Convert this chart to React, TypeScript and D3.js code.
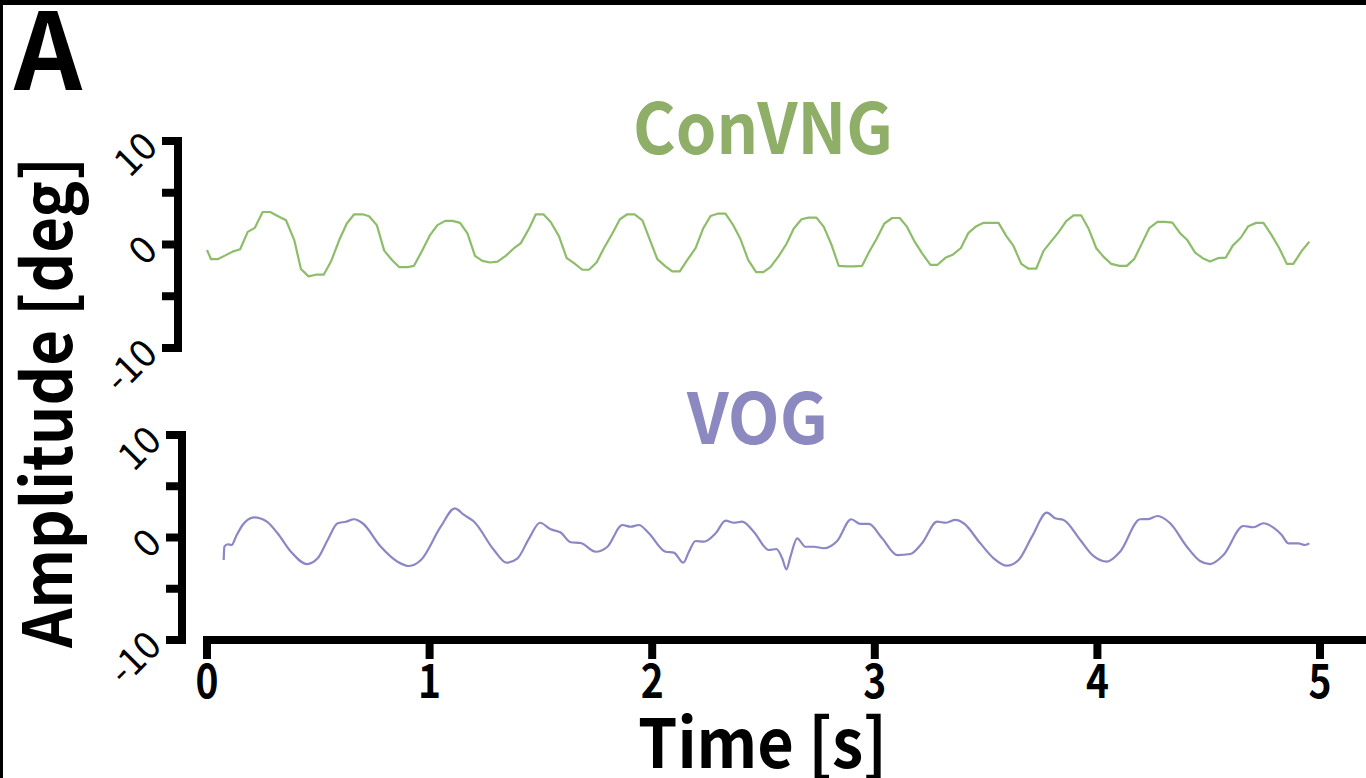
import React from "react";
import * as d3 from "d3";

// Axis ticks
const timeTicks = [0, 1, 2, 3, 4, 5];
const ampTicks = [-10, -5, 0, 5, 10];
const ampLabels = [-10, 0, 10];

// ConVNG trace (s, deg)
const conTime = [
  0.0, 0.018, 0.048, 0.078, 0.115, 0.149, 0.183, 0.215, 0.25, 0.284, 0.317, 0.355, 0.392, 0.422, 0.456,
  0.489, 0.524, 0.557, 0.594, 0.628, 0.661, 0.699, 0.728, 0.763, 0.796, 0.83, 0.863, 0.901, 0.93, 0.968,
  1.002, 1.035, 1.07, 1.103, 1.137, 1.17, 1.204, 1.237, 1.272, 1.305, 1.342, 1.379, 1.409, 1.447, 1.477,
  1.511, 1.544, 1.581, 1.616, 1.649, 1.686, 1.716, 1.75, 1.783, 1.821, 1.855, 1.888, 1.921, 1.956, 1.99,
  2.023, 2.057, 2.09, 2.124, 2.158, 2.195, 2.229, 2.262, 2.297, 2.329, 2.364, 2.397, 2.431, 2.467, 2.499,
  2.531, 2.569, 2.603, 2.636, 2.671, 2.703, 2.738, 2.771, 2.804, 2.838, 2.873, 2.905, 2.943, 2.973, 3.007,
  3.043, 3.078, 3.112, 3.145, 3.179, 3.212, 3.25, 3.282, 3.317, 3.352, 3.386, 3.421, 3.456, 3.489, 3.523,
  3.556, 3.591, 3.623, 3.658, 3.691, 3.725, 3.758, 3.793, 3.825, 3.86, 3.893, 3.927, 3.96, 3.995, 4.027,
  4.062, 4.099, 4.132, 4.166, 4.2, 4.234, 4.27, 4.304, 4.337, 4.372, 4.404, 4.439, 4.473, 4.506, 4.541,
  4.577, 4.608, 4.644, 4.678, 4.713, 4.746, 4.78, 4.816, 4.851, 4.88, 4.918, 4.952,
];
const conAmp = [
  -0.53, -1.42, -1.42, -1.1, -0.69, -0.46, 1.22, 1.61, 3.14, 3.14, 2.76, 2.34, 0.43, -2.37, -3.08,
  -2.92, -2.92, -1.65, 0.43, 2.03, 2.92, 2.92, 2.73, 1.87, -0.59, -1.48, -2.18, -2.18, -2.06, -0.53,
  0.91, 1.87, 2.28, 2.28, 2.09, 1.07, -1.1, -1.58, -1.74, -1.65, -1.1, -0.36, 0.11, 1.55, 2.92,
  2.92, 2.18, 0.81, -1.32, -1.8, -2.44, -2.44, -1.74, -0.36, 1.07, 2.44, 2.92, 2.92, 2.34, 0.43,
  -1.42, -2.06, -2.6, -2.6, -1.48, -0.36, 1.55, 2.76, 2.99, 2.99, 1.87, 0.5, -1.48, -2.66, -2.66,
  -2.18, -1.1, 0.05, 1.55, 2.44, 2.6, 2.6, 1.7, 0.05, -2.06, -2.12, -2.12, -2.06, -0.78, 0.5,
  2.03, 2.56, 2.56, 1.7, 0.27, -0.84, -1.96, -1.96, -1.29, -0.96, -0.36, 1.13, 1.77, 2.09, 2.09,
  2.09, 0.81, -0.14, -1.87, -2.34, -2.34, -0.62, 0.33, 1.17, 2.25, 2.82, 2.82, 1.55, -0.36, -1.17,
  -1.87, -2.06, -2.06, -1.39, 0.11, 1.61, 2.18, 2.18, 2.12, 1.07, 0.43, -0.78, -1.32, -1.65, -1.32,
  -1.26, -0.11, 0.65, 1.77, 2.09, 2.09, 1.0, -0.31, -1.87, -1.87, -0.62, 0.27,
];

// VOG trace (s, deg)
const vogTime = [
  0.075, 0.078, 0.093, 0.111, 0.13, 0.16, 0.212, 0.269, 0.317, 0.377, 0.449, 0.497, 0.542, 0.587, 0.624,
  0.661, 0.699, 0.781, 0.856, 0.908, 0.961, 1.05, 1.113, 1.155, 1.2, 1.289, 1.346, 1.395, 1.447, 1.496,
  1.544, 1.589, 1.634, 1.679, 1.746, 1.799, 1.866, 1.903, 1.94, 1.985, 2.06, 2.097, 2.14, 2.165, 2.195,
  2.232, 2.285, 2.33, 2.367, 2.404, 2.456, 2.524, 2.558, 2.584, 2.603, 2.621, 2.651, 2.688, 2.726, 2.771,
  2.831, 2.894, 2.935, 2.973, 3.033, 3.1, 3.16, 3.212, 3.28, 3.32, 3.362, 3.399, 3.474, 3.534, 3.594,
  3.646, 3.706, 3.773, 3.811, 3.848, 3.923, 3.982, 4.043, 4.102, 4.192, 4.229, 4.27, 4.327, 4.402, 4.461,
  4.506, 4.566, 4.656, 4.701, 4.746, 4.791, 4.828, 4.858, 4.903, 4.933, 4.952,
];
const vogAmp = [
  -2.2, -0.9, -0.66, -0.73, 0.08, 1.22, 1.97, 1.54, 0.41, -1.39, -2.59, -2.03, -0.24, 1.39, 1.54,
  1.78, 1.39, -0.9, -2.36, -2.78, -2.2, 1.05, 2.85, 2.2, 1.54, -1.22, -2.46, -2.03, -0.08, 1.44,
  0.8, 0.49, -0.46, -0.54, -1.39, -0.9, 1.22, 1.05, 1.22, 0.41, -1.39, -1.48, -2.46, -1.39, -0.34,
  -0.41, 0.41, 1.64, 1.44, 1.54, 0.57, -1.22, -1.12, -2.03, -3.1, -1.87, -0.08, -0.9, -0.9, -1.05,
  -0.34, 1.78, 1.32, 1.32, -0.08, -1.71, -1.61, -0.57, 1.54, 1.44, 1.71, 1.39, -0.57, -2.03, -2.75,
  -2.2, 0.08, 2.42, 1.87, 1.71, -0.24, -1.8, -2.36, -1.39, 1.78, 1.8, 2.1, 1.39, -0.9, -2.29,
  -2.59, -1.71, 1.12, 1.0, 1.39, 0.96, 0.24, -0.57, -0.57, -0.73, -0.57,
];

const FONT = "'Noto Sans CJK JP', 'Noto Sans', sans-serif";
const GREEN_LINE = "#8dbd68";
const GREEN_TEXT = "#8fae68";
const PURPLE_LINE = "#8a87c4";
const PURPLE_TEXT = "#8b89bf";

type Pt = [number, number];

function YAxis({ x0, scale }: { x0: number; scale: d3.ScaleLinear<number, number> }) {
  const [lo, hi] = scale.domain();
  return (
    <g>
      <line x1={x0} x2={x0} y1={scale(lo)} y2={scale(hi)} stroke="#000" strokeWidth={8} strokeLinecap="square" />
      {ampTicks.map((t) => (
        <line key={t} x1={x0 - 16} x2={x0} y1={scale(t)} y2={scale(t)} stroke="#000" strokeWidth={8} />
      ))}
      {ampLabels.map((t) => {
        const ax = x0 - 30;
        const ay = scale(t) - 4;
        return (
          <text
            key={t}
            x={ax}
            y={ay}
            transform={`rotate(-45, ${ax}, ${ay})`}
            textAnchor="end"
            dominantBaseline="central"
            fontFamily={FONT}
            fontSize={38}
            fill="#000"
          >
            {t}
          </text>
        );
      })}
    </g>
  );
}

export default function App() {
  const W = 1366;
  const H = 778;
  const x = d3.scaleLinear().domain([0, 5]).range([207, 1320]);
  const yTop = d3.scaleLinear().domain([-10, 10]).range([348, 141]);
  const yBot = d3.scaleLinear().domain([-10, 10]).range([640, 435]);

  const conPts: Pt[] = conTime.map((t, i) => [t, conAmp[i]]);
  const vogPts: Pt[] = vogTime.map((t, i) => [t, vogAmp[i]]);

  const conLine = d3
    .line<Pt>()
    .x((d) => x(d[0]))
    .y((d) => yTop(d[1]))
    .curve(d3.curveLinear);
  const vogLine = d3
    .line<Pt>()
    .x((d) => x(d[0]))
    .y((d) => yBot(d[1]))
    .curve(d3.curveMonotoneX);

  const xAxisY = yBot(-10);

  return (
    <svg
      width={W}
      height={H}
      viewBox={`0 0 ${W} ${H}`}
      style={{ position: "absolute", left: 0, top: 0, background: "#fff" }}
    >
      <rect x={0} y={0} width={W} height={H} fill="#fff" />
      {/* frame edges */}
      <rect x={0} y={0} width={W} height={5} fill="#000" />
      <rect x={0} y={0} width={3} height={H} fill="#000" />

      <text x={14} y={90} fontFamily={FONT} fontWeight={700} fontSize={106} fill="#000">
        A
      </text>

      {/* panel titles */}
      <text
        x={763}
        y={154}
        textAnchor="middle"
        fontFamily={FONT}
        fontWeight={700}
        fontSize={70}
        textLength={260}
        lengthAdjust="spacingAndGlyphs"
        fill={GREEN_TEXT}
      >
        ConVNG
      </text>
      <text
        x={757.5}
        y={444}
        textAnchor="middle"
        fontFamily={FONT}
        fontWeight={700}
        fontSize={70}
        textLength={141}
        lengthAdjust="spacingAndGlyphs"
        fill={PURPLE_TEXT}
      >
        VOG
      </text>

      {/* y axes */}
      <YAxis x0={178} scale={yTop} />
      <YAxis x0={182} scale={yBot} />

      {/* x axis */}
      <g>
        <line x1={x(0) - 4} x2={W} y1={xAxisY} y2={xAxisY} stroke="#000" strokeWidth={8} />
        {timeTicks.map((t) => (
          <g key={t}>
            <line x1={x(t)} x2={x(t)} y1={xAxisY} y2={xAxisY + 19} stroke="#000" strokeWidth={8} />
            <text
              x={x(t)}
              y={698}
              textAnchor="middle"
              fontFamily={FONT}
              fontWeight={700}
              fontSize={47}
              textLength={23}
              lengthAdjust="spacingAndGlyphs"
              fill="#000"
            >
              {t}
            </text>
          </g>
        ))}
      </g>

      {/* axis titles */}
      <text
        x={762.5}
        y={768}
        textAnchor="middle"
        fontFamily={FONT}
        fontWeight={700}
        fontSize={68}
        textLength={249}
        lengthAdjust="spacingAndGlyphs"
        fill="#000"
      >
        Time [s]
      </text>
      <text
        x={72}
        y={402.5}
        transform="rotate(-90, 72, 402.5)"
        textAnchor="middle"
        fontFamily={FONT}
        fontWeight={700}
        fontSize={68}
        textLength={491}
        lengthAdjust="spacingAndGlyphs"
        fill="#000"
      >
        Amplitude [deg]
      </text>

      {/* traces */}
      <path d={conLine(conPts) ?? ""} fill="none" stroke={GREEN_LINE} strokeWidth={2.2} strokeLinejoin="round" />
      <path d={vogLine(vogPts) ?? ""} fill="none" stroke={PURPLE_LINE} strokeWidth={2.2} strokeLinejoin="round" />
    </svg>
  );
}
